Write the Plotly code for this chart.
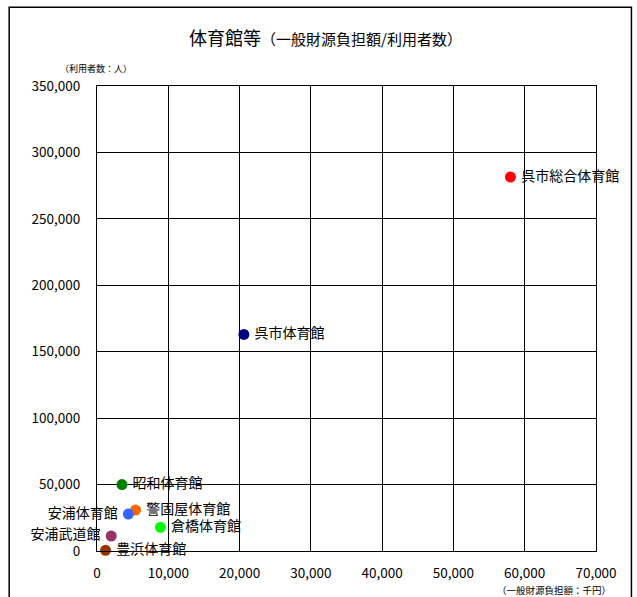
import plotly.graph_objects as go

# Facilities: general-revenue burden (thousand yen) vs. number of users
names = ["呉市総合体育館", "呉市体育館", "昭和体育館", "警固屋体育館",
         "安浦体育館", "倉橋体育館", "安浦武道館", "豊浜体育館"]
burden = [58000, 20600, 3500, 5400, 4400, 8900, 2000, 1200]
users = [281500, 163000, 50000, 30800, 27800, 17800, 11300, 500]
colors = ["#FF0000", "#000080", "#008000", "#FF6600",
          "#3366FF", "#00FF00", "#993366", "#993300"]
label_side = ["middle right", "middle right", "middle right", "middle right",
              "middle left", "middle right", "middle left", "middle right"]

x_ticks = [0, 10000, 20000, 30000, 40000, 50000, 60000, 70000]
y_ticks = [0, 50000, 100000, 150000, 200000, 250000, 300000, 350000]

FONT = "Noto Sans CJK JP"
GAP = "\u2009"  # thin space between marker and its label

fig = go.Figure()
for n, xv, yv, c, pos in zip(names, burden, users, colors, label_side):
    label = GAP + n if pos.endswith("right") else n + GAP
    fig.add_trace(go.Scatter(
        x=[xv], y=[yv], mode="markers+text",
        text=[label], textposition=pos,
        marker=dict(size=11, color=c, line=dict(width=0)),
        textfont=dict(family=FONT, size=14, color="black"),
        cliponaxis=False, showlegend=False, name=n,
    ))

axis_common = dict(
    showgrid=True, gridcolor="black", gridwidth=1,
    showline=True, linecolor="black", linewidth=1, mirror=True,
    zeroline=False, ticks="", tickformat=",d",
    tickfont=dict(family=FONT, size=13.5, color="black"),
)

fig.update_layout(
    width=637, height=597,
    margin=dict(l=97, r=41, t=86, b=46),
    paper_bgcolor="white", plot_bgcolor="white",
    xaxis=dict(range=[0, 70000], tickvals=x_ticks, ticklabelstandoff=10, **axis_common),
    yaxis=dict(range=[0, 350000], tickvals=y_ticks, ticklabelstandoff=13, **axis_common),
    font=dict(family=FONT, color="black"),
)

# Title and axis unit captions
fig.add_annotation(
    text="体育館等<span style='font-size:15px'>（一般財源負担額/利用者数）</span>",
    xref="paper", yref="paper", x=0.457, y=1.105, showarrow=False,
    xanchor="center", yanchor="middle",
    font=dict(family=FONT, size=18, color="black"),
)
fig.add_annotation(
    text="（利用者数：人）", xref="paper", yref="paper",
    x=-0.002, y=1.0387, showarrow=False, xanchor="center", yanchor="middle",
    font=dict(family=FONT, size=9, color="black"),
)
fig.add_annotation(
    text="（一般財源負担額：千円）", xref="paper", yref="paper",
    x=1.034, y=-0.083, showarrow=False, xanchor="right", yanchor="middle",
    font=dict(family=FONT, size=9.5, color="black"),
)

# Chart frame
fig.add_shape(type="rect", xref="paper", yref="paper",
              x0=-0.176, x1=1.071, y0=-0.2, y1=1.1695,
              line=dict(color="black", width=1.5), fillcolor="rgba(0,0,0,0)",
              layer="below")

fig.write_html("out.html")
